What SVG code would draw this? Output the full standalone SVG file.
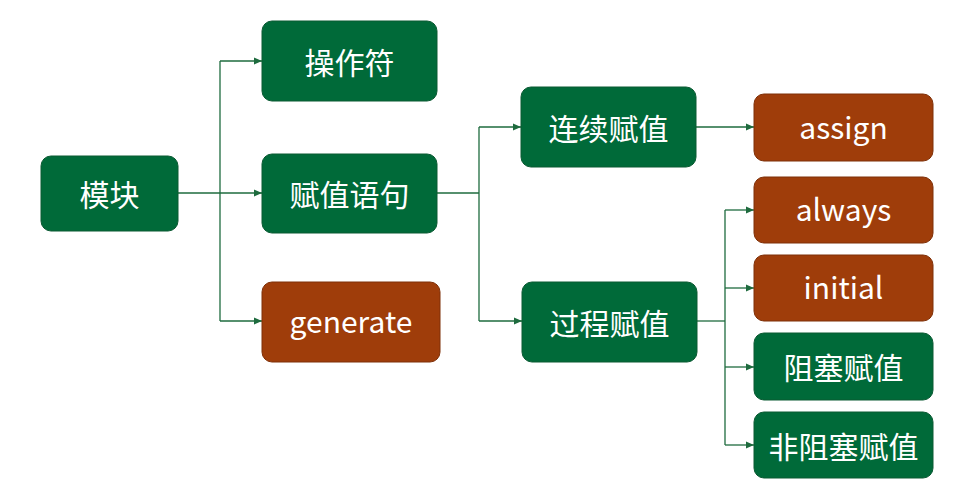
<svg xmlns="http://www.w3.org/2000/svg" width="954" height="488" viewBox="0 0 954 488">
<style>
.g{fill:#006A39;stroke:#0B5A33;stroke-width:1}
.b{fill:#9F3D0A;stroke:#7F3008;stroke-width:1}
.t{font-family:"Noto Sans CJK SC","Noto Sans",sans-serif;font-size:30px;fill:#ffffff;text-anchor:middle;dominant-baseline:central}
.c{fill:none;stroke:#1E6B3E;stroke-width:1.3}
</style>
<defs>
<marker id="ar" markerWidth="8" markerHeight="8" refX="8" refY="4" orient="auto" markerUnits="userSpaceOnUse">
<path d="M0,0.5 L8,4 L0,7.5 Z" fill="#1E6B3E"/>
</marker>
</defs>
<rect width="954" height="488" fill="#ffffff"/>
<g id="connectors">
<path class="c" d="M178,193 H262" marker-end="url(#ar)"/>
<path class="c" d="M220,61 V321"/>
<path class="c" d="M220,61 H262" marker-end="url(#ar)"/>
<path class="c" d="M220,321 H262" marker-end="url(#ar)"/>
<path class="c" d="M437,193 H479"/>
<path class="c" d="M479,127 V321"/>
<path class="c" d="M479,127 H521" marker-end="url(#ar)"/>
<path class="c" d="M479,321 H522" marker-end="url(#ar)"/>
<path class="c" d="M696,127 H754" marker-end="url(#ar)"/>
<path class="c" d="M697,321 H725"/>
<path class="c" d="M725,210 V445"/>
<path class="c" d="M725,210 H754" marker-end="url(#ar)"/>
<path class="c" d="M725,288 H754" marker-end="url(#ar)"/>
<path class="c" d="M725,367 H754" marker-end="url(#ar)"/>
<path class="c" d="M725,445 H754" marker-end="url(#ar)"/>
</g>
<g id="n-mokuai"><rect class="g" x="41" y="156" width="137" height="75" rx="10"/><text class="t" x="109.5" y="193">模块</text></g>
<g id="n-caozuofu"><rect class="g" x="262" y="21" width="175" height="80" rx="10"/><text class="t" x="349.5" y="60.5">操作符</text></g>
<g id="n-fuzhiyuju"><rect class="g" x="262" y="154" width="175" height="79" rx="10"/><text class="t" x="349.5" y="193">赋值语句</text></g>
<g id="n-generate"><rect class="b" x="262" y="282" width="178" height="80" rx="10"/><text class="t" x="351" y="320">generate</text></g>
<g id="n-lianxu"><rect class="g" x="521" y="87" width="175" height="80" rx="10"/><text class="t" x="608.5" y="126.5">连续赋值</text></g>
<g id="n-guocheng"><rect class="g" x="522" y="282" width="175" height="80" rx="10"/><text class="t" x="609.5" y="321.5">过程赋值</text></g>
<g id="n-assign"><rect class="b" x="754" y="94" width="179" height="67" rx="10"/><text class="t" x="843.5" y="125.5">assign</text></g>
<g id="n-always"><rect class="b" x="754" y="177" width="179" height="66" rx="10"/><text class="t" x="843.5" y="208">always</text></g>
<g id="n-initial"><rect class="b" x="754" y="255" width="179" height="66" rx="10"/><text class="t" x="843.5" y="286">initial</text></g>
<g id="n-zusai"><rect class="g" x="754" y="333" width="179" height="67" rx="10"/><text class="t" x="843.5" y="366">阻塞赋值</text></g>
<g id="n-feizusai"><rect class="g" x="754" y="412" width="179" height="66" rx="10"/><text class="t" x="843.5" y="444.5">非阻塞赋值</text></g>
</svg>
